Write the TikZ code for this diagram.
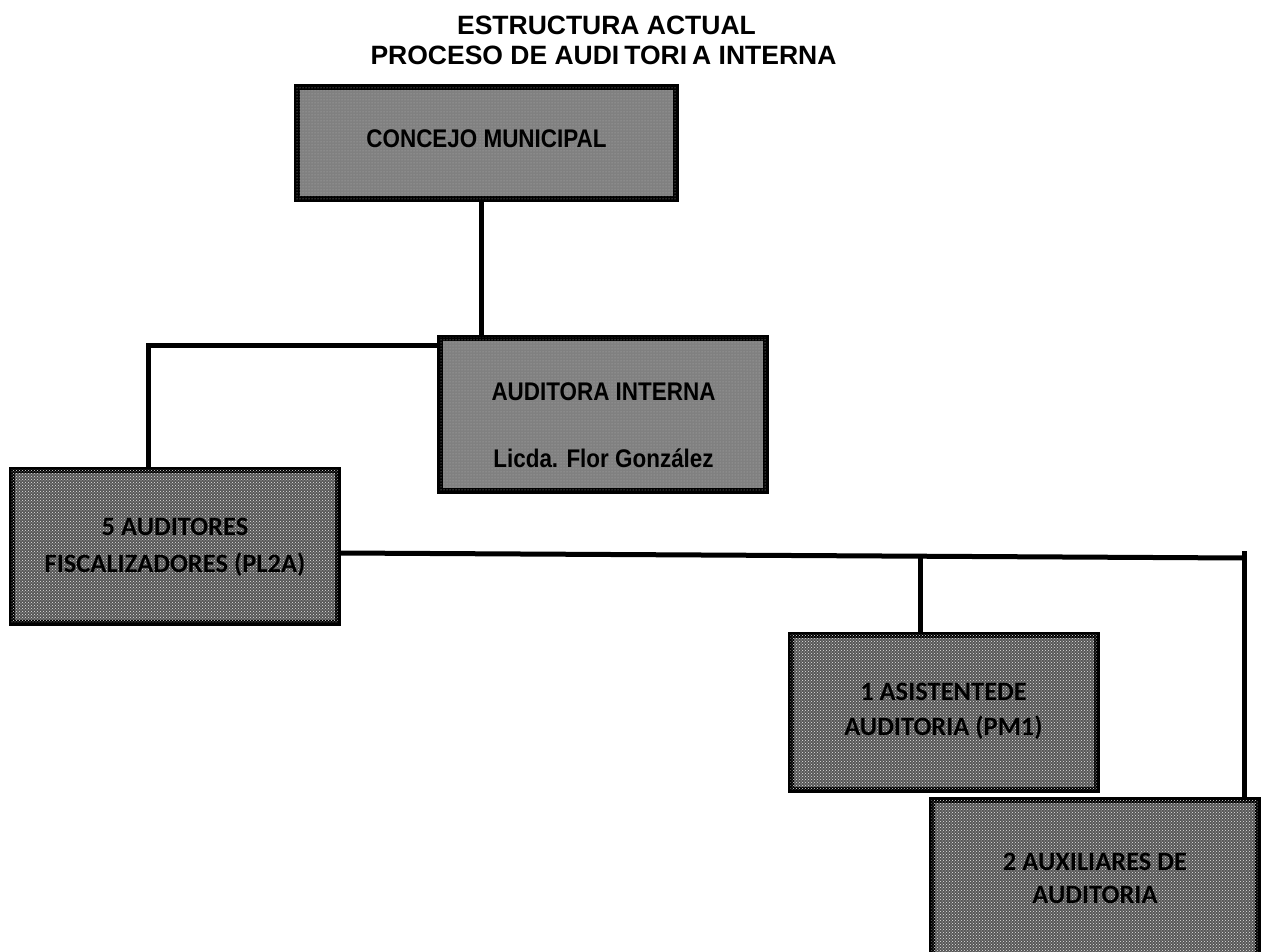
\documentclass[tikz,border=0pt]{standalone}
\usepackage{fontspec}
\setmainfont{Liberation Sans}
\newfontfamily\narrowfont[FakeStretch=0.88]{Liberation Sans}
\newfontfamily\carfont{Carlito}
\usetikzlibrary{patterns}
\tikzset{
  topbox/.style={draw=black, line width=6pt, fill=black!50, inner sep=0pt,
    postaction={pattern=dots, pattern color=white!70!black}},
  lowbox/.style={draw=black, line width=6pt, fill=black!66, inner sep=0pt,
    postaction={pattern=crosshatch dots, pattern color=white!90!black}},
  toplbl/.style={anchor=base, inner sep=0pt, font=\narrowfont\bfseries\fontsize{25.5}{30}\selectfont},
  lowlbl/.style={anchor=base, inner sep=0pt, font=\carfont\bfseries\fontsize{26.5}{31}\selectfont},
  titlelbl/.style={anchor=base, inner sep=0pt, font=\bfseries\fontsize{26.5}{30}\selectfont},
  conn/.style={draw=black, line width=5pt}
}
\begin{document}
\begin{tikzpicture}[x=1pt,y=-1pt]
\useasboundingbox (0,0) rectangle (1263,952);
\clip (0,0) rectangle (1263,952);
% title
\node[titlelbl] (title1) at (606.5,35) {ESTRUCTURA ACTUAL};
\node[titlelbl] (title2) at (603.5,65) {PROCESO DE AUDI\hspace{5pt}TORI\hspace{5pt}A INTERNA};
% boxes
\node[topbox, minimum width=379pt, minimum height=112pt] (concejo) at (486,143.5) {};
\node[topbox, minimum width=326pt, minimum height=153pt] (auditora) at (602.5,414) {};
\node[lowbox, minimum width=326pt, minimum height=153pt] (auditores) at (174.5,546) {};
\node[lowbox, minimum width=306pt, minimum height=155pt] (asistente) at (943.5,712) {};
\node[lowbox, minimum width=326pt, minimum height=160pt] (auxiliares) at (1094.5,880) {};
% labels
\node[toplbl] (concejoT) at (486.5,148) {CONCEJO MUNICIPAL};
\node[toplbl] (auditoraT1) at (603.5,400) {AUDITORA INTERNA};
\node[toplbl] (auditoraT2) at (603.5,467) {Licda. Flor González};
\node[lowlbl] (auditoresT1) at (175,535) {5 AUDITORES};
\node[lowlbl] (auditoresT2) at (175,572) {FISCALIZADORES (PL2A)};
\node[lowlbl] (asistenteT1) at (943.5,700) {1 ASISTENTEDE};
\node[lowlbl] (asistenteT2) at (943.5,735) {AUDITORIA (PM1)};
\node[lowlbl] (auxiliaresT1) at (1095,870) {2 AUXILIARES DE};
\node[lowlbl] (auxiliaresT2) at (1095,903) {AUDITORIA};
% connectors
\coordinate (jR) at (1244,558);
\coordinate (jRtop) at (1244,551);
\coordinate (jM) at (920,556);
\coordinate (jL) at (148,345);
\coordinate (hL) at (340,553);
\draw[conn] ([xshift=-5pt]concejo.south) -- ([xshift=-5pt]concejo.south |- auditora.north);
\draw[conn] (auditora.west |- jL) -- (jL) -- (jL |- auditores.north);
\draw[conn] (auditores.east |- hL) -- (jR);
\draw[conn] (jM) -- (jM |- asistente.north);
\draw[conn] (jRtop) -- (jRtop |- auxiliares.north);
\end{tikzpicture}
\end{document}
